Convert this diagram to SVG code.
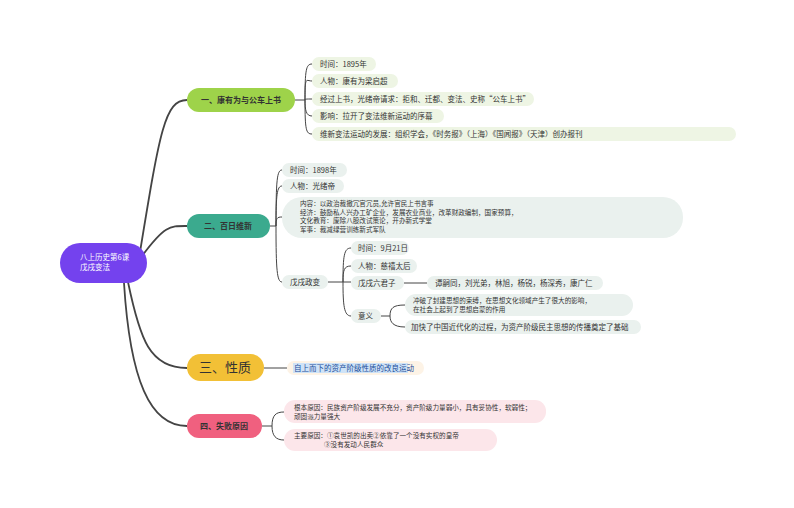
<svg xmlns="http://www.w3.org/2000/svg" width="794" height="508" viewBox="0 0 794 508">
<style>
text{font-family:"Noto Sans CJK SC","Noto Sans",sans-serif;fill:#333;font-size:7.5px}
.s{font-size:6.6px}
.m{fill:none;stroke:#444;stroke-width:1.8}
.c{fill:none;stroke:#444;stroke-width:1}
.g{fill:#EEF5E4}.t{fill:#EAF1EE}.o{fill:#FDF3E6}.p{fill:#FCE6EA}
.b{font-weight:bold;font-size:8px;text-anchor:middle}
</style>
<rect width="794" height="508" fill="#fff"/>
<g id="connectors">
<path class="m" d="M140,252 C160,130 165,100 187,100"/>
<path class="m" d="M142,256 C165,225 170,226 187,226"/>
<path class="m" d="M128,282 C140,340 150,368 187,368"/>
<path class="m" d="M124,283 C130,380 150,426 187,426"/>
<path class="c" d="M295,100 H305 M305,100 C305,70 306,64 312,64 M305,100 C305,75 306,81 312,81 M305,100 C305,99 306,99 312,99 M305,100 C305,110 306,116 312,116 M305,100 C305,130 306,134 312,134"/>
<path class="c" d="M270,226 H276 M276,226 C276,180 277,170 282,170 M276,226 C276,195 277,186 282,186 M276,226 C276,218 277,217 282,217 M276,226 C276,270 277,282 282,282"/>
<path class="c" d="M328,282 H343 M343,282 C343,256 344,248 351,248 M343,282 C343,270 344,266 351,266 M343,282 H351 M343,282 C343,305 344,316 351,316"/>
<path class="c" d="M404,283 H427"/>
<path class="c" d="M381,316 H390 M390,316 C390,308 393,305 405,305 M390,316 C390,322 393,327 405,327"/>
<path class="c" d="M264,368 H287"/>
<path class="c" d="M262,426 H272 M272,426 C272,415 276,412 284,412 M272,426 C272,436 276,440 284,440"/>
</g>
<g id="root"><rect x="60" y="243" width="87" height="40" rx="20" fill="#7442EE"/><text x="80" y="260" style="fill:#fff;font-size:7.5px">八上历史第6课</text><text x="80" y="270" style="fill:#fff;font-size:7.5px">戊戌变法</text></g>
<g id="n1"><rect x="187" y="88" width="108" height="24" rx="12" fill="#9ED34A"/><text class="b" x="241" y="103">一、康有为与公车上书</text>
<rect class="g" x="312" y="57" width="64" height="14" rx="7"/><text x="320" y="67">时间：1895年</text>
<rect class="g" x="312" y="74" width="86" height="14" rx="7"/><text x="320" y="84">人物：康有为梁启超</text>
<rect class="g" x="312" y="92" width="222" height="14" rx="7"/><text x="320" y="102">经过上书，光绪帝请求：拒和、迁都、变法、史称“公车上书”</text>
<rect class="g" x="312" y="109" width="132" height="14" rx="7"/><text x="320" y="119">影响：拉开了变法维新运动的序幕</text>
<rect class="g" x="312" y="127" width="424" height="14" rx="7"/><text x="320" y="137">维新变法运动的发展：组织学会，《时务报》（上海）《国闻报》（天津）创办报刊</text></g>
<g id="n2"><rect x="187" y="214" width="83" height="24" rx="12" fill="#3BAA8E"/><text class="b" x="228" y="229">二、百日维新</text>
<rect class="t" x="282" y="163" width="65" height="14" rx="7"/><text x="290" y="173">时间：1898年</text>
<rect class="t" x="282" y="179" width="62" height="14" rx="7"/><text x="290" y="189">人物：光绪帝</text>
<rect class="t" x="282" y="197" width="401" height="41" rx="20"/>
<text class="s" x="300" y="206">内容：以政治裁撤冗官冗员,允许官民上书言事</text><text class="s" x="300" y="214.5">经济：鼓励私人兴办工矿企业，发展农业商业，改革财政编制，国家预算，</text><text class="s" x="300" y="223">文化教育：废除八股改试策论，开办新式学堂</text><text class="s" x="300" y="231.5">军事：裁减绿营训练新式军队</text>
<rect class="t" x="282" y="275" width="46" height="14" rx="7"/><text x="290" y="285">戊戌政变</text>
<rect class="t" x="351" y="241" width="58" height="14" rx="7"/><text x="358" y="251">时间：9月21日</text>
<rect class="t" x="351" y="259" width="66" height="14" rx="7"/><text x="358" y="269">人物：慈禧太后</text>
<rect class="t" x="351" y="276" width="53" height="14" rx="7"/><text x="358" y="286">戊戌六君子</text>
<rect class="t" x="351" y="309" width="30" height="14" rx="7"/><text x="358" y="319">意义</text>
<rect class="t" x="427" y="276" width="176" height="14" rx="7"/><text x="435" y="286">谭嗣同，刘光弟，林旭，杨锐，杨深秀，康广仁</text>
<rect class="t" x="405" y="294" width="228" height="22" rx="11"/><text class="s" x="413" y="303">冲破了封建思想的束缚，在思想文化领域产生了很大的影响，</text><text class="s" x="413" y="311.5">在社会上起到了思想启蒙的作用</text>
<rect class="t" x="405" y="320" width="236" height="14" rx="7"/><text x="411" y="330">加快了中国近代化的过程，为资产阶级民主思想的传播奠定了基础</text></g>
<g id="n3"><rect x="187" y="354" width="77" height="27" rx="13.5" fill="#F2C036"/><text x="225" y="372" style="font-size:13px;text-anchor:middle">三、性质</text>
<rect class="o" x="287" y="361" width="137" height="14" rx="7"/><rect x="293" y="363" width="115" height="10" fill="#CFE3F7"/><text x="294" y="371" style="fill:#1C4E9A">自上而下的资产阶级性质的改良运动</text></g>
<g id="n4"><rect x="187" y="414" width="75" height="24" rx="12" fill="#F0607F"/><text class="b" x="224" y="429">四、失败原因</text>
<rect class="p" x="284" y="400" width="262" height="23" rx="11"/><text class="s" x="294" y="410">根本原因：民族资产阶级发展不充分，资产阶级力量弱小，具有妥协性，软弱性；</text><text class="s" x="294" y="418.5">顽固派力量强大</text>
<rect class="p" x="284" y="429" width="213" height="22" rx="11"/><text class="s" x="294" y="438">主要原因：①袁世凯的出卖②依靠了一个没有实权的皇帝</text><text class="s" x="324" y="446.5">③没有发动人民群众</text></g>
</svg>
